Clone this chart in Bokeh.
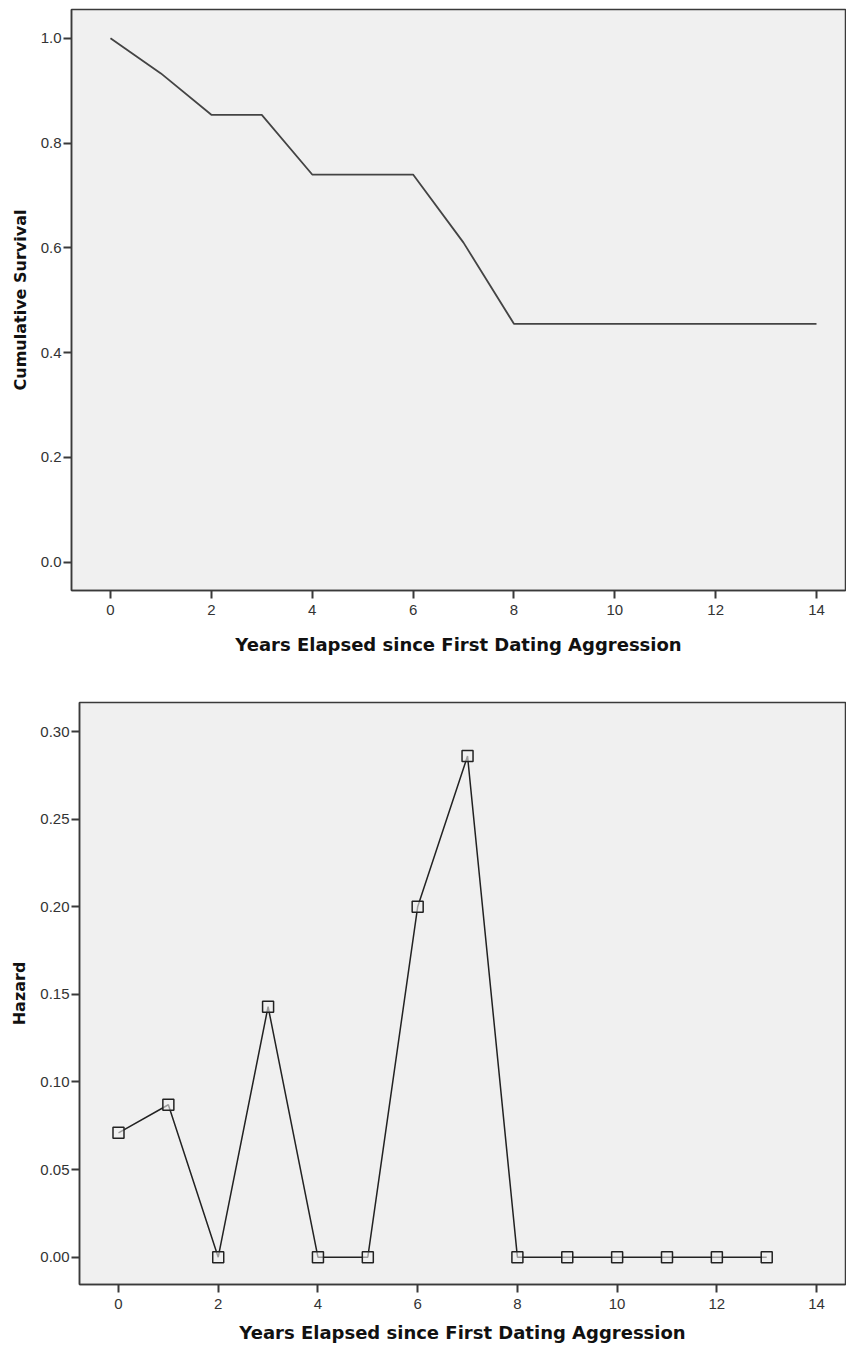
from bokeh.plotting import figure
from bokeh.models import Range1d, FixedTicker, NumeralTickFormatter
from bokeh.embed import file_html
from bokeh.resources import INLINE

# Data
years_surv = list(range(0, 15))
survival = [1.0, 0.933, 0.854, 0.854, 0.740, 0.740, 0.740, 0.610, 0.455,
            0.455, 0.455, 0.455, 0.455, 0.455, 0.455]

years_haz = list(range(0, 14))
hazard = [0.071, 0.087, 0.0, 0.143, 0.0, 0.0, 0.200, 0.286, 0.0,
          0.0, 0.0, 0.0, 0.0, 0.0]

x_ticks = [0, 2, 4, 6, 8, 10, 12, 14]
surv_ticks = [0.0, 0.2, 0.4, 0.6, 0.8, 1.0]
haz_ticks = [0.0, 0.05, 0.10, 0.15, 0.20, 0.25, 0.30]

x_title = "Years Elapsed since First Dating Aggression"

TICK_FONT = "Liberation Sans"
LABEL_FONT = "DejaVu Sans"


def style(p, ylabel):
    p.background_fill_color = "#f0f0f0"
    p.border_fill_color = "white"
    p.outline_line_color = "#3a3a3a"
    p.outline_line_width = 1.5
    p.grid.visible = False
    for ax in (p.xaxis[0], p.yaxis[0]):
        ax.axis_line_color = "#3a3a3a"
        ax.axis_line_width = 1.5
        ax.major_tick_line_color = "#3a3a3a"
        ax.major_tick_line_width = 2
        ax.major_tick_out = 8
        ax.major_tick_in = 0
        ax.minor_tick_line_color = None
        ax.major_label_text_font = TICK_FONT
        ax.major_label_text_font_size = "15px"
        ax.major_label_text_color = "#333333"
        ax.axis_label_text_font = LABEL_FONT
        ax.axis_label_text_font_style = "bold"
        ax.axis_label_text_color = "#111111"
    p.xaxis.axis_label_text_font_size = "18px"
    p.yaxis.axis_label_text_font_size = "16px"
    p.xaxis.axis_label = x_title
    p.yaxis.axis_label = ylabel
    p.xaxis.ticker = FixedTicker(ticks=x_ticks)
    p.xaxis.major_label_standoff = 6
    p.yaxis.major_label_standoff = 2
    p.yaxis.axis_label_standoff = 8


p1 = figure(width=846, height=680, output_backend="svg", toolbar_location=None,
            x_range=Range1d(-0.773, 14.575), y_range=Range1d(-0.054, 1.055),
            min_border_left=71, min_border_right=1, min_border_top=9,
            min_border_bottom=90)
style(p1, "Cumulative Survival")
p1.xaxis.axis_label_standoff = 16
p1.yaxis.ticker = FixedTicker(ticks=surv_ticks)
p1.yaxis.formatter = NumeralTickFormatter(format="0.0")
p1.line(years_surv, survival, line_color="#444444", line_width=1.8)

p2 = figure(width=846, height=673, output_backend="svg", toolbar_location=None,
            x_range=Range1d(-0.782, 14.58), y_range=Range1d(-0.0156, 0.3166),
            min_border_left=79, min_border_right=1, min_border_top=22,
            min_border_bottom=69)
style(p2, "Hazard")
p2.xaxis.axis_label_standoff = 10
p2.yaxis.ticker = FixedTicker(ticks=haz_ticks)
p2.yaxis.formatter = NumeralTickFormatter(format="0.00")
p2.line(years_haz, hazard, line_color="#222222", line_width=1.5)
p2.scatter(years_haz, hazard, marker="square", size=11, fill_color="#f0f0f0",
           fill_alpha=0.6, line_color="#222222", line_width=1.5)

open("out.html", "w").write(file_html([p1, p2], INLINE))
